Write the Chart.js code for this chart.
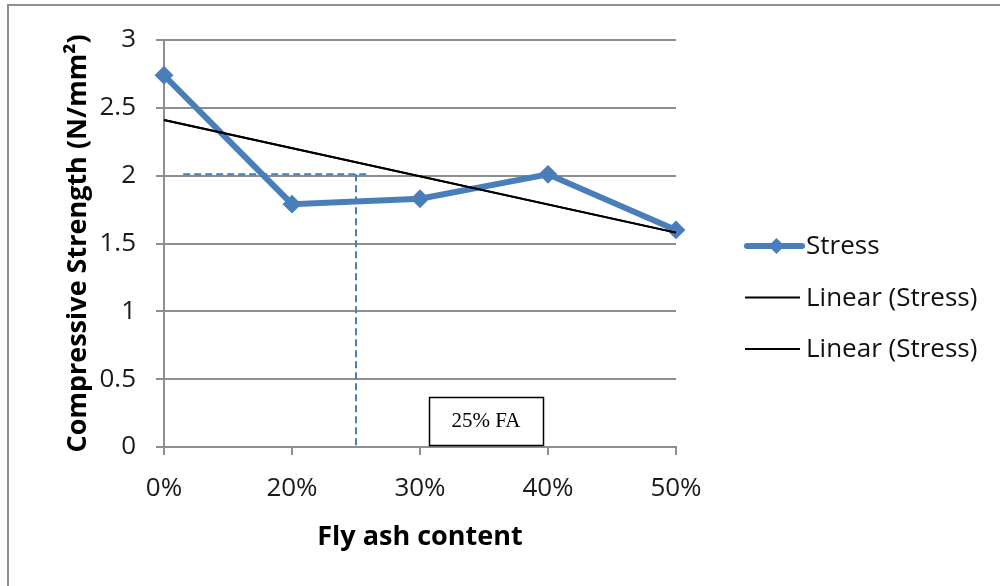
<!DOCTYPE html>
<html>
<head>
<meta charset="utf-8">
<style>
  html, body { margin: 0; padding: 0; background: #ffffff; }
  #wrap { width: 1000px; height: 586px; position: relative; }
</style>
<script src="https://cdn.jsdelivr.net/npm/chart.js@4/dist/chart.umd.min.js"></script>
</head>
<body>
<div id="wrap"><canvas id="chart" width="1000" height="586"></canvas></div>
<script>
// Fly ash replacement levels (evenly spaced categories)
const categories = ['0%', '20%', '30%', '40%', '50%'];
// Compressive strength, N/mm²
const stress = [2.74, 1.79, 1.83, 2.01, 1.60];
// Linear trend of the stress series, at the first and last category
const trendEnds = [2.41, 1.58];
// Guide for the 25% FA level: strength level and category position of 25%
const guideLevel = [2.01];
const guideSpanX = [0.15, 1.59];
const guideAt25 = [1.5];
// Y axis ticks
const yTicks = [0, 0.5, 1, 1.5, 2, 2.5, 3];

const BLUE = '#4a7ebb';
const GRID = '#8e8e8e';
const FONT = 'Open Sans';

const stressPoints = categories.map((c, i) => ({ x: i, y: stress[i] }));
const trendPoints = [
  { x: 0, y: trendEnds[0] },
  { x: categories.length - 1, y: trendEnds[1] }
];

// Frame, text box and legend drawn on the canvas
const decor = {
  id: 'decor',
  beforeDraw(chart) {
    const { ctx } = chart;
    ctx.save();
    ctx.fillStyle = '#ffffff';
    ctx.fillRect(0, 0, chart.width, chart.height);
    ctx.strokeStyle = GRID;
    ctx.lineWidth = 2;
    ctx.beginPath();
    ctx.moveTo(8, chart.height + 2);
    ctx.lineTo(8, 5);
    ctx.lineTo(chart.width + 2, 5);
    ctx.stroke();
    ctx.restore();
  },
  afterDraw(chart) {
    const { ctx } = chart;
    const xs = chart.scales.x, ys = chart.scales.y;
    // "25% FA" label box
    const bx0 = xs.getPixelForValue(2.07), bx1 = xs.getPixelForValue(2.96);
    const by0 = ys.getPixelForValue(0.37), by1 = ys.getPixelForValue(0.015);
    ctx.save();
    ctx.fillStyle = '#ffffff';
    ctx.fillRect(bx0, by0, bx1 - bx0, by1 - by0);
    ctx.strokeStyle = '#000000';
    ctx.lineWidth = 1.5;
    ctx.strokeRect(Math.round(bx0) + 0.5, Math.round(by0) + 0.5, Math.round(bx1 - bx0), Math.round(by1 - by0));
    ctx.fillStyle = '#000000';
    ctx.font = '21px "Liberation Serif", "Times New Roman", serif';
    ctx.textAlign = 'center';
    ctx.textBaseline = 'middle';
    ctx.fillText('25% FA', (bx0 + bx1) / 2, (by0 + by1) / 2 + 1);
    ctx.restore();

    // Legend
    const items = chart.data.datasets.filter(d => d.inLegend);
    const lx0 = 745, lx1 = 804, tx = 806;
    const ly0 = 246, gap = 51.5;
    ctx.save();
    ctx.font = '26px "' + FONT + '"';
    ctx.textBaseline = 'middle';
    ctx.textAlign = 'left';
    items.forEach((d, i) => {
      const y = ly0 + i * gap;
      ctx.strokeStyle = d.borderColor;
      ctx.lineWidth = d.borderWidth;
      ctx.lineCap = d.pointRadius ? 'round' : 'butt';
      ctx.beginPath();
      ctx.moveTo(lx0 + (d.pointRadius ? 2 : 0), y);
      ctx.lineTo(d.pointRadius ? lx1 - 2 : lx1 - 4, y);
      ctx.stroke();
      if (d.pointRadius) {
        const cx = (lx0 + lx1) / 2 + 2, r = 8;
        ctx.fillStyle = d.borderColor;
        ctx.beginPath();
        ctx.moveTo(cx, y - r); ctx.lineTo(cx + r, y); ctx.lineTo(cx, y + r); ctx.lineTo(cx - r, y);
        ctx.closePath();
        ctx.fill();
      }
      ctx.fillStyle = '#111111';
      ctx.fillText(d.label, tx, y + 1);
    });
    ctx.restore();
  }
};

new Chart(document.getElementById('chart'), {
  type: 'line',
  data: {
    datasets: [
      {
        label: 'Stress',
        inLegend: true,
        data: stressPoints,
        borderColor: BLUE,
        backgroundColor: BLUE,
        borderWidth: 6,
        pointStyle: 'rectRot',
        pointRadius: 8,
        pointBorderWidth: 2,
        pointBackgroundColor: BLUE,
        pointBorderColor: BLUE,
        tension: 0,
        clip: false,
        order: 1
      },
      {
        label: 'Linear (Stress)',
        inLegend: true,
        data: trendPoints,
        borderColor: '#000000',
        borderWidth: 2,
        pointRadius: 0,
        clip: false,
        order: 0
      },
      {
        label: 'Linear (Stress)',
        inLegend: true,
        data: trendPoints,
        borderColor: '#000000',
        borderWidth: 2,
        pointRadius: 0,
        clip: false,
        order: 0
      },
      {
        label: 'guide-level',
        data: [{ x: guideSpanX[0], y: guideLevel[0] }, { x: guideSpanX[1], y: guideLevel[0] }],
        borderColor: BLUE,
        borderWidth: 2,
        borderDash: [7, 4],
        pointRadius: 0,
        order: 2
      },
      {
        label: 'guide-25',
        data: [{ x: guideAt25[0], y: guideLevel[0] }, { x: guideAt25[0], y: 0 }],
        borderColor: BLUE,
        borderWidth: 2,
        borderDash: [7, 4],
        pointRadius: 0,
        order: 2
      }
    ]
  },
  options: {
    responsive: false,
    animation: false,
    events: [],
    layout: { padding: { top: 40, right: 324, bottom: 0, left: 0 } },
    plugins: {
      legend: { display: false },
      tooltip: { enabled: false }
    },
    scales: {
      x: {
        type: 'linear',
        min: 0,
        max: categories.length - 1,
        afterFit(scale) { scale.height = 139; },
        afterBuildTicks(scale) { scale.ticks = categories.map((c, i) => ({ value: i })); },
        ticks: {
          callback: (v) => categories[v],
          font: { family: FONT, size: 26 },
          color: '#1a1a1a',
          padding: 18,
          maxRotation: 0,
          autoSkip: false
        },
        grid: { drawOnChartArea: false, tickLength: 8, color: GRID, lineWidth: 2 },
        border: { display: true, color: GRID, width: 2 },
        title: {
          display: true,
          text: 'Fly ash content',
          font: { family: FONT, size: 27, weight: 'bold' },
          color: '#000000',
          padding: { top: 0, bottom: 32 }
        }
      },
      y: {
        min: 0,
        max: 3,
        afterFit(scale) { scale.width = 164; },
        afterBuildTicks(scale) { scale.ticks = yTicks.map(v => ({ value: v })); },
        ticks: {
          callback: (v) => String(v),
          font: { family: FONT, size: 26 },
          color: '#1a1a1a',
          padding: 20
        },
        grid: { color: GRID, lineWidth: 2, tickLength: 8 },
        border: { display: true, color: GRID, width: 2 },
        title: {
          display: true,
          text: 'Compressive Strength (N/mm²)',
          font: { family: FONT, size: 27, weight: 'bold' },
          color: '#000000',
          padding: { top: 62, bottom: 0 }
        }
      }
    }
  },
  plugins: [decor]
});
</script>
</body>
</html>
